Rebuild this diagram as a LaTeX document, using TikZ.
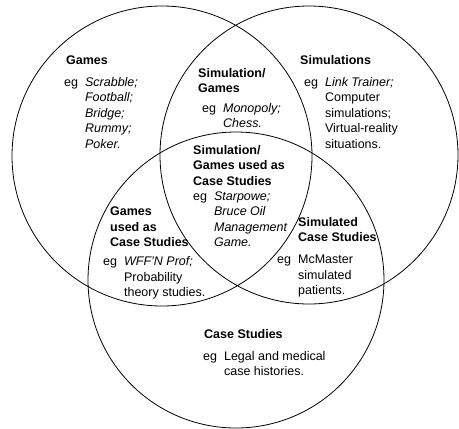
\documentclass[tikz,border=0pt]{standalone}
\usepackage{fontspec}
\setmainfont{Liberation Sans}
\usetikzlibrary{positioning}

\newcommand{\lines}[1]{\begin{tabular}[t]{@{}l@{}}#1\end{tabular}}
\newcommand{\egitems}[1]{eg\hspace{7pt}\lines{#1}}

\begin{document}
\begin{tikzpicture}[x=1pt,y=-1pt]
  \tikzset{set/.style = {draw, line width=0.8pt}}
  \tikzset{txt/.style = {font=\fontsize{12.5}{15.5}\selectfont, inner sep=0pt, anchor=base west}}
  \tikzset{head/.style = {txt, font=\fontsize{12.5}{15.5}\selectfont\bfseries}}
  \useasboundingbox (0,0) rectangle (459,429);

  % the three sets
  \draw[set] (162,156) circle[radius=150pt];
  \draw[set] (309,155) circle[radius=149pt];
  \draw[set] (236,280) circle[radius=148pt];

  % games
  \node[head] (games) at (66,64) {Games};
  \node[txt] (gamesEg) at (64,86)
    {\egitems{\itshape Scrabble;\\\itshape Football;\\\itshape Bridge;\\\itshape Rummy;\\\itshape Poker.}};

  % simulations
  \node[head] (sims) at (300,64) {Simulations};
  \node[txt] (simsEg) at (304,86)
    {\egitems{\itshape Link Trainer;\\Computer\\simulations;\\Virtual-reality\\situations.}};

  % simulation/games
  \node[head] (simGames) at (198,77) {\lines{Simulation/\\Games}};
  \node[txt] (simGamesEg) at (202,112)
    {\egitems{\itshape Monopoly;\\\itshape Chess.}};

  % all three
  \node[head] (simGamesCase) at (193,154) {\lines{Simulation/\\Games used as\\Case Studies}};
  \node[txt] (simGamesCaseEg) at (193,200)
    {\egitems{\itshape Starpowe;\\\itshape Bruce Oil\\\itshape Management\\\itshape Game.}};

  % games used as case studies
  \node[head] (gamesCase) at (110,215.5) {\lines{Games\\used as\\Case Studies}};
  \node[txt] (gamesCaseEg) at (103,265.5)
    {\egitems{\itshape WFF'N Prof;\\Probability\\theory studies.}};

  % simulated case studies
  \node[head] (simCase) at (298,226) {\lines{Simulated\\Case Studies}};
  \node[txt] (simCaseEg) at (277,263.5)
    {\egitems{McMaster\\simulated\\patients.}};

  % case studies
  \node[head] (cases) at (204,338) {Case Studies};
  \node[txt] (casesEg) at (203,360)
    {\egitems{Legal and medical\\case histories.}};
\end{tikzpicture}
\end{document}
